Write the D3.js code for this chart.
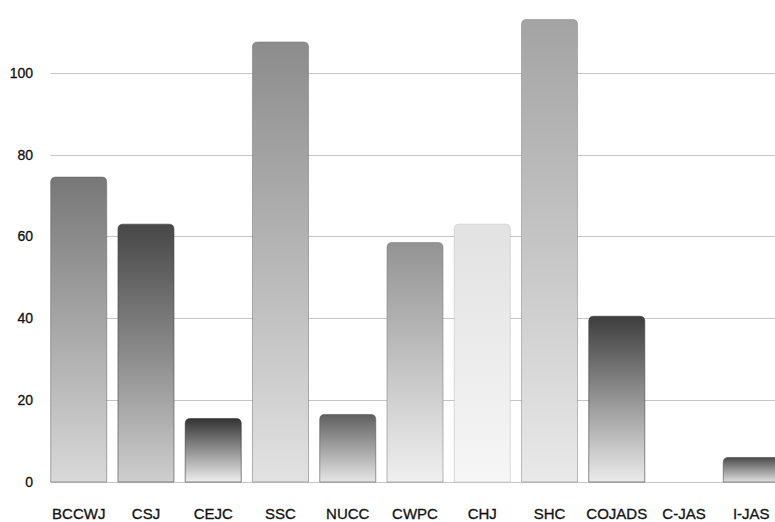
<!DOCTYPE html>
<html>
<head>
<meta charset="utf-8">
<script src="https://cdn.jsdelivr.net/npm/d3@7"></script>
<style>
  html, body { margin: 0; padding: 0; background: #fff; }
  svg { display: block; }
</style>
</head>
<body>
<svg id="chart" width="775" height="522"></svg>
<script>
// Corpora and their counts
const corpora = ["BCCWJ", "CSJ", "CEJC", "SSC", "NUCC", "CWPC", "CHJ", "SHC", "COJADS", "C-JAS", "I-JAS"];
const counts = [74.5, 63, 15.5, 107.5, 16.5, 58.5, 63, 113, 40.5, 0, 6];
const yTicks = [0, 20, 40, 60, 80, 100];

// Per-bar gradient shades (top -> bottom)
const topShades = ["#777777", "#474747", "#333333", "#8c8c8c", "#5f5f5f", "#939393", "#e2e2e2", "#a3a3a3", "#3d3d3d", "#888888", "#4a4a4a"];
const bottomShades = ["#d9d9d9", "#cfcfcf", "#eeeeee", "#e2e2e2", "#e6e6e6", "#f0f0f0", "#f6f6f6", "#e9e9e9", "#ebebeb", "#eeeeee", "#e0e0e0"];

const width = 775, height = 522;
const svg = d3.select("#chart");

const x = d3.scaleBand()
  .domain(corpora)
  .range([50.7, 779.3])
  .paddingInner(0.167)
  .paddingOuter(0);

const y = d3.scaleLinear()
  .domain([0, 100])
  .range([482, 72.7]);

// Gradients
const defs = svg.append("defs");
corpora.forEach((c, i) => {
  const g = defs.append("linearGradient")
    .attr("id", "grad" + i)
    .attr("x1", 0).attr("y1", 0).attr("x2", 0).attr("y2", 1);
  g.append("stop").attr("offset", "0%").attr("stop-color", topShades[i]);
  g.append("stop").attr("offset", "100%").attr("stop-color", bottomShades[i]);
});

// Gridlines
const grid = svg.append("g");
grid.selectAll("line")
  .data(yTicks)
  .join("line")
  .attr("x1", 50.7)
  .attr("x2", width)
  .attr("y1", d => Math.round(y(d)) + 0.5)
  .attr("y2", d => Math.round(y(d)) + 0.5)
  .attr("stroke", "#c6c6c6")
  .attr("stroke-width", 1);

// Y axis labels
const yAxis = d3.axisLeft(y).tickValues(yTicks).tickSize(0).tickPadding(0);
const yg = svg.append("g")
  .attr("transform", "translate(33,0)")
  .call(yAxis);
yg.select(".domain").remove();
yg.selectAll("text")
  .attr("font-family", "'Liberation Sans', Arial, sans-serif")
  .attr("font-size", 14)
  .attr("fill", "#111")
  .attr("stroke", "#111")
  .attr("stroke-width", 0.3);

// Bars with rounded top corners
function barPath(x0, y0, w, h, r) {
  if (h <= 0) return "";
  r = Math.min(r, h, w / 2);
  return `M${x0},${y0 + h}` +
    `V${y0 + r}` +
    `Q${x0},${y0} ${x0 + r},${y0}` +
    `H${x0 + w - r}` +
    `Q${x0 + w},${y0} ${x0 + w},${y0 + r}` +
    `V${y0 + h}Z`;
}

svg.append("g")
  .selectAll("path")
  .data(corpora.map((c, i) => ({ c, v: counts[i], i })))
  .join("path")
  .attr("d", d => barPath(x(d.c), y(d.v), x.bandwidth(), y(0) - y(d.v), 5))
  .attr("fill", d => `url(#grad${d.i})`)
  .attr("stroke", d => d3.color(topShades[d.i]).darker(0.5))
  .attr("stroke-opacity", 0.55)
  .attr("stroke-width", 1);

// X axis labels
const xAxis = d3.axisBottom(x).tickSize(0).tickPadding(0);
const xg = svg.append("g")
  .attr("transform", "translate(0,508)")
  .call(xAxis);
xg.select(".domain").remove();
xg.selectAll("text")
  .attr("dy", "0.71em")
  .attr("font-family", "'Liberation Sans', Arial, sans-serif")
  .attr("font-size", 15)
  .attr("fill", "#111")
  .attr("stroke", "#111")
  .attr("stroke-width", 0.3);
</script>
</body>
</html>
